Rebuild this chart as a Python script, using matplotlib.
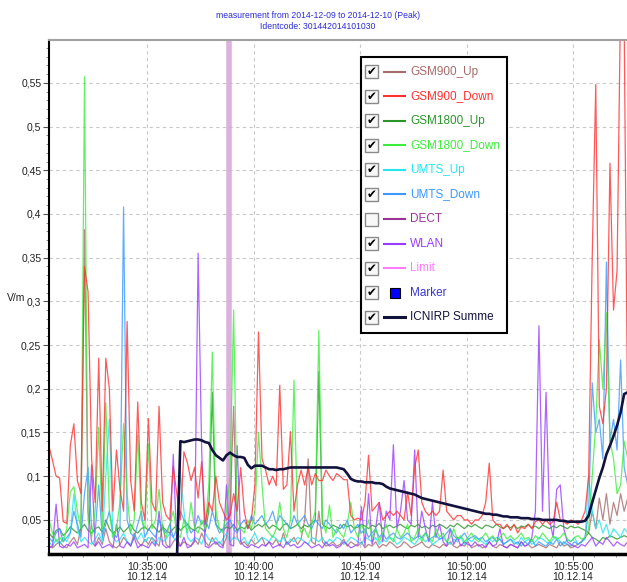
import matplotlib
matplotlib.use("Agg")
import matplotlib.pyplot as plt
import matplotlib.dates as mdates
from matplotlib.ticker import MultipleLocator, FuncFormatter
from matplotlib.patches import Rectangle
from matplotlib.lines import Line2D
import numpy as np
import pandas as pd

plt.rcParams['font.family'] = ['Liberation Sans', 'DejaVu Sans']

# ---------------- data (values in mV/m) ----------------
start_time = "2014-12-10 10:30:24"
sample_step = "10s"

gsm900_up = [
    20, 18, 22, 25, 20, 18, 25, 30, 22, 40,
    382, 60, 25, 20, 30, 22, 40, 25, 20, 18,
    22, 30, 25, 20, 35, 25, 20, 28, 22, 30,
    25, 20, 45, 22, 18, 25, 30, 20, 25, 22,
    20, 28, 22, 35, 25, 20, 30, 22, 25, 20,
    30, 60, 180, 30, 22, 25, 20, 28, 22, 25,
    30, 20, 25, 22, 28, 20, 35, 22, 25, 30,
    22, 28, 50, 120, 25, 22, 60, 25, 20, 22,
    25, 20, 22, 28, 20, 25, 22, 20, 25, 18,
    22, 20, 25, 18, 22, 20, 25, 22, 18, 20,
    25, 22, 18, 20, 22, 25, 20, 18, 22, 20,
    18, 22, 20, 25, 20, 18, 22, 20, 25, 18,
    20, 22, 18, 20, 25, 20, 18, 22, 20, 18,
    22, 20, 18, 25, 20, 22, 18, 20, 22, 20,
    18, 22, 20, 18, 25, 20, 22, 18, 20, 22,
    25, 30, 35, 60, 40, 75, 50, 80, 45, 70,
    55, 80, 60, 75]

gsm900_down = [
    134, 118, 100, 98, 48, 46, 135, 160, 95, 80,
    340, 311, 120, 70, 235, 60, 235, 200, 60, 130,
    85, 60, 277, 95, 60, 185, 70, 50, 166, 70,
    60, 180, 70, 55, 50, 111, 80, 50, 128, 115,
    95, 110, 75, 117, 45, 70, 60, 100, 70, 60,
    50, 55, 80, 60, 110, 60, 40, 50, 90, 265,
    120, 107, 90, 100, 89, 204, 85, 90, 151, 60,
    90, 107, 90, 110, 90, 103, 95, 95, 107, 100,
    95, 103, 100, 96, 96, 55, 50, 52, 50, 70,
    124, 60, 65, 70, 50, 55, 60, 55, 60, 55,
    50, 82, 55, 110, 130, 70, 60, 55, 60, 55,
    60, 107, 60, 55, 50, 55, 55, 50, 50, 45,
    50, 50, 55, 70, 115, 50, 45, 45, 40, 45,
    38, 45, 35, 42, 40, 45, 40, 48, 50, 45,
    50, 45, 48, 70, 50, 48, 45, 50, 48, 45,
    50, 60, 100, 350, 548, 180, 160, 200, 458, 290,
    335, 650, 620, 150]

gsm1800_up = [
    35, 30, 38, 40, 32, 36, 42, 38, 35, 40,
    45, 38, 35, 40, 42, 36, 50, 40, 35, 38,
    42, 36, 40, 45, 38, 35, 40, 42, 38, 45,
    40, 36, 42, 38, 35, 40, 44, 38, 42, 45,
    40, 38, 42, 40, 36, 60, 196, 45, 40, 38,
    42, 40, 45, 38, 42, 40, 44, 38, 42, 45,
    42, 46, 40, 44, 42, 38, 44, 46, 40, 42,
    45, 40, 44, 42, 46, 50, 220, 45, 42, 40,
    44, 42, 40, 45, 42, 44, 40, 42, 45, 43,
    40, 44, 42, 46, 40, 42, 44, 41, 43, 45,
    42, 40, 44, 42, 45, 41, 43, 40, 44, 42,
    45, 43, 40, 44, 42, 46, 43, 40, 44, 42,
    45, 42, 40, 44, 43, 41, 45, 42, 40, 43,
    41, 44, 40, 43, 42, 45, 41, 43, 40, 44,
    42, 40, 43, 41, 44, 42, 40, 43, 41, 42,
    40, 38, 35, 30, 28, 25, 30, 28, 32, 30,
    28, 30, 32, 30]

gsm1800_down = [
    50, 35, 25, 30, 25, 40, 82, 88, 60, 40,
    557, 50, 30, 60, 156, 40, 184, 60, 30, 40,
    70, 160, 80, 35, 50, 147, 50, 40, 137, 40,
    50, 85, 40, 30, 45, 60, 35, 30, 50, 35,
    70, 40, 35, 50, 40, 90, 242, 60, 40, 35,
    60, 100, 290, 50, 40, 35, 50, 40, 60, 150,
    90, 40, 35, 30, 40, 70, 40, 30, 50, 210,
    50, 35, 40, 30, 45, 60, 267, 50, 35, 67,
    30, 40, 35, 30, 45, 70, 40, 30, 45, 35,
    50, 30, 40, 25, 35, 45, 30, 25, 40, 30,
    35, 45, 25, 30, 40, 25, 35, 30, 25, 40,
    30, 35, 25, 30, 40, 28, 32, 25, 30, 35,
    28, 25, 30, 35, 28, 32, 25, 30, 35, 28,
    32, 27, 30, 35, 28, 30, 25, 32, 28, 35,
    30, 25, 32, 28, 30, 35, 28, 25, 30, 32,
    28, 30, 40, 100, 160, 256, 200, 287, 140, 120,
    80, 90, 140, 120]

umts_up = [
    25, 20, 28, 22, 30, 25, 35, 80, 40, 25,
    30, 25, 22, 28, 35, 25, 100, 165, 30, 25,
    28, 35, 25, 22, 30, 28, 35, 25, 30, 28,
    22, 30, 25, 28, 35, 30, 25, 105, 60, 30,
    25, 30, 28, 22, 35, 28, 25, 30, 22, 28,
    35, 25, 30, 28, 25, 30, 22, 28, 35, 25,
    30, 28, 25, 32, 28, 25, 30, 22, 28, 25,
    30, 28, 25, 22, 30, 28, 25, 30, 22, 28,
    25, 30, 28, 22, 25, 30, 28, 25, 22, 30,
    28, 25, 30, 22, 28, 25, 30, 28, 22, 25,
    30, 28, 25, 22, 28, 30, 25, 28, 22, 25,
    28, 30, 25, 22, 28, 25, 30, 22, 28, 25,
    30, 28, 25, 22, 28, 25, 30, 28, 22, 25,
    28, 25, 22, 30, 25, 28, 22, 25, 30, 28,
    25, 22, 28, 30, 25, 22, 28, 25, 30, 22,
    25, 28, 100, 60, 40, 50, 35, 45, 30, 40,
    35, 30, 40, 35]

umts_down = [
    30, 25, 35, 40, 25, 30, 35, 60, 45, 30,
    80, 110, 40, 35, 90, 30, 45, 60, 35, 30,
    40, 408, 50, 35, 30, 45, 60, 30, 40, 35,
    30, 50, 40, 35, 45, 30, 40, 60, 50, 45,
    35, 40, 55, 45, 50, 40, 60, 45, 35, 40,
    45, 50, 40, 35, 45, 50, 40, 55, 45, 50,
    55, 45, 50, 60, 45, 55, 50, 45, 40, 55,
    45, 50, 55, 45, 40, 50, 45, 40, 50, 45,
    40, 35, 45, 40, 50, 35, 40, 45, 35, 40,
    30, 35, 40, 30, 35, 28, 32, 35, 30, 28,
    32, 35, 30, 28, 32, 30, 35, 28, 30, 32,
    28, 30, 35, 40, 32, 28, 30, 35, 28, 30,
    32, 28, 30, 25, 28, 30, 25, 28, 22, 25,
    28, 22, 25, 20, 25, 22, 28, 20, 25, 22,
    20, 25, 22, 28, 20, 25, 22, 20, 25, 22,
    25, 30, 60, 207, 150, 165, 120, 345, 140, 165,
    130, 233, 110, 90]

wlan = [
    18, 20, 68, 20, 18, 22, 20, 25, 18, 20,
    22, 18, 113, 20, 25, 18, 20, 22, 18, 45,
    20, 18, 25, 20, 30, 18, 22, 20, 18, 25,
    20, 60, 22, 18, 20, 125, 22, 20, 30, 18,
    20, 25, 355, 130, 20, 18, 22, 25, 20, 18,
    90, 22, 20, 135, 25, 20, 18, 22, 20, 18,
    22, 20, 25, 18, 20, 22, 18, 25, 20, 22,
    18, 20, 25, 22, 18, 20, 22, 18, 25, 20,
    22, 18, 20, 25, 22, 18, 20, 22, 65, 20,
    80, 22, 40, 70, 25, 60, 50, 136, 40, 60,
    95, 50, 45, 130, 30, 60, 40, 25, 70, 30,
    45, 25, 20, 40, 22, 30, 20, 25, 22, 20,
    25, 20, 22, 18, 25, 20, 22, 40, 20, 18,
    22, 20, 18, 25, 20, 22, 30, 60, 272, 60,
    196, 50, 30, 85, 90, 40, 25, 22, 20, 18,
    22, 20, 25, 30, 20, 25, 22, 30, 25, 20,
    25, 22, 20, 25]

icnirp_summe = [
    0, 0, 0, 0, 0, 0, 0, 0, 0, 0,
    0, 0, 0, 0, 0, 0, 0, 0, 0, 0,
    0, 0, 0, 0, 0, 0, 0, 0, 0, 0,
    0, 0, 0, 0, 0, 0, 0, 140, 139, 140,
    141, 142, 142, 141, 139, 138, 130, 124, 121, 118,
    124, 127, 124, 122, 122, 121, 113, 109, 112, 112,
    112, 110, 108, 108, 107, 108, 108, 109, 110, 110,
    110, 110, 110, 110, 110, 110, 110, 110, 110, 110,
    110, 110, 109, 108, 103, 97, 95, 94, 94, 93,
    93, 93, 92, 92, 91, 88, 86, 85, 84, 83,
    82, 81, 80, 79, 77, 75, 74, 73, 72, 71,
    70, 69, 68, 67, 66, 65, 64, 63, 62, 61,
    60, 59, 58, 57, 57, 56, 56, 55, 54, 54,
    53, 53, 53, 52, 52, 52, 51, 51, 51, 50,
    50, 50, 50, 50, 49, 49, 48, 48, 48, 48,
    48, 49, 55, 70, 84, 98, 110, 125, 135, 146,
    158, 173, 194, 196]

band_time = "2014-12-10 10:38:50"   # wide translucent vertical trace

legend_labels = ["GSM900_Up", "GSM900_Down", "GSM1800_Up", "GSM1800_Down",
                 "UMTS_Up", "UMTS_Down", "DECT", "WLAN", "Limit", "Marker",
                 "ICNIRP Summe"]
legend_checked = [True, True, True, True, True, True, False, True, True, True, True]

title_text = "measurement from 2014-12-09 to 2014-12-10 (Peak)\nIdentcode: 301442014101030"
y_unit = "V/m"

# ---------------- styles ----------------
colors = {
    "GSM900_Up": "#a86a6a",
    "GSM900_Down": "#ff3030",
    "GSM1800_Up": "#2a962a",
    "GSM1800_Down": "#3cee3c",
    "UMTS_Up": "#22e6f0",
    "UMTS_Down": "#3b98ff",
    "DECT": "#993399",
    "WLAN": "#9a3cff",
    "Limit": "#ff7cff",
    "Marker": "#0000ff",
    "ICNIRP Summe": "#12123e",
}
text_colors = dict(colors)
text_colors["Marker"] = "#3535d8"

W, H = 627, 582
fig = plt.figure(figsize=(W / 100, H / 100), dpi=100)


def fx(px):
    return px / W


def fy(py):
    return 1 - py / H


ax_left, ax_right, ax_top, ax_bottom = 49, 627, 40, 554
ax = fig.add_axes([fx(ax_left), fy(ax_bottom), fx(ax_right) - fx(ax_left), fy(ax_top) - fy(ax_bottom)])

times = pd.date_range(start_time, periods=len(gsm900_down), freq=sample_step)


def v(lst):
    return np.array(lst, dtype=float) / 1000.0


ax.axvline(pd.Timestamp(band_time), color="#d8a4d8", lw=4, alpha=0.85, zorder=1)

series = [
    ("GSM900_Up", gsm900_up),
    ("GSM1800_Up", gsm1800_up),
    ("UMTS_Up", umts_up),
    ("WLAN", wlan),
    ("UMTS_Down", umts_down),
    ("GSM1800_Down", gsm1800_down),
    ("GSM900_Down", gsm900_down),
]
for name, data in series:
    ax.plot(times, v(data), color=colors[name], lw=0.9, alpha=0.8, zorder=2)

ax.plot(times, v(icnirp_summe), color=colors["ICNIRP Summe"], lw=1.9, zorder=3)

ax.set_xlim(pd.Timestamp("2014-12-10 10:30:24"), pd.Timestamp("2014-12-10 10:57:32"))
ax.set_ylim(0.011, 0.599)

ax.xaxis.set_major_locator(mdates.MinuteLocator(byminute=range(0, 60, 5)))
ax.xaxis.set_minor_locator(mdates.MinuteLocator())
ax.xaxis.set_major_formatter(mdates.DateFormatter("%H:%M:%S\n%d.%m.%y"))
ax.yaxis.set_major_locator(MultipleLocator(0.05))
ax.yaxis.set_minor_locator(MultipleLocator(0.01))
ax.yaxis.set_major_formatter(FuncFormatter(lambda val, pos: f"{val:g}".replace(".", ",")))

ax.grid(True, which="major", color="#c8c8c8", lw=0.8, linestyle=(0, (3, 3)))
ax.set_axisbelow(True)

ax.tick_params(axis="both", which="major", labelsize=7.5, colors="#555555", labelcolor="#222222",
               length=4, width=0.8, direction="out", pad=1.5)
ax.tick_params(axis="both", which="minor", colors="#777777", length=2.5, width=0.6, direction="out")
for lbl in ax.get_xticklabels():
    lbl.set_linespacing(1.0)

ax.spines["left"].set_color("black")
ax.spines["left"].set_linewidth(1.5)
ax.spines["bottom"].set_color("black")
ax.spines["bottom"].set_linewidth(2.5)
ax.spines["top"].set_color("#a0a0a0")
ax.spines["top"].set_linewidth(1.5)
ax.spines["right"].set_visible(False)

fig.text(fx(318), fy(21), title_text, ha="center", va="center", fontsize=6.2,
         color="#2b2bd6", linespacing=1.3)
fig.text(fx(16), fy(298), y_unit, ha="center", va="center", fontsize=7.5, color="#222222")

# ---------------- legend with check boxes ----------------
box_l, box_t, box_r, box_b = 361, 57, 507, 333
fig.patches.append(Rectangle((fx(box_l), fy(box_b)), fx(box_r) - fx(box_l), fy(box_t) - fy(box_b),
                             transform=fig.transFigure, facecolor="white", edgecolor="black",
                             lw=1.5, zorder=10))
row0, row_step = 71.5, 24.6
for k, (lab, chk) in enumerate(zip(legend_labels, legend_checked)):
    cy = row0 + k * row_step
    fig.patches.append(Rectangle((fx(365), fy(cy + 6.5)), fx(13), fy(0) - fy(13),
                                 transform=fig.transFigure, facecolor="#f8f8f8",
                                 edgecolor="#8a8a8a", lw=1.0, zorder=11))
    if chk:
        fig.text(fx(371.5), fy(cy), "\u2714", ha="center", va="center", fontsize=8.5,
                 color="black", family="DejaVu Sans", zorder=12)
    col = colors[lab]
    if lab == "Marker":
        fig.patches.append(Rectangle((fx(390), fy(cy + 5)), fx(10), fy(0) - fy(10),
                                     transform=fig.transFigure, facecolor=col,
                                     edgecolor="black", lw=0.8, zorder=11))
    else:
        fig.lines.append(Line2D([fx(384), fx(405)], [fy(cy), fy(cy)], transform=fig.transFigure,
                                color=col, lw=2.2 if lab == "ICNIRP Summe" else 1.5, zorder=11))
    fig.text(fx(410), fy(cy), lab, ha="left", va="center", fontsize=8.5,
             color=text_colors[lab], zorder=12)

fig.savefig("out.png", dpi=100)
